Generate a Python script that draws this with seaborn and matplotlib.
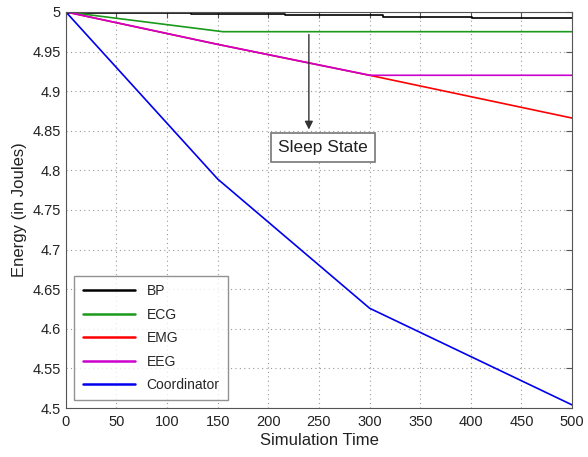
import matplotlib
matplotlib.use("Agg")
import matplotlib.pyplot as plt
import seaborn as sns
import pandas as pd

bp_t = [0, 124, 124, 216, 216, 313, 313, 401, 401, 500]
bp_e = [4.9985, 4.9985, 4.9975, 4.9975, 4.9960, 4.9960, 4.9940, 4.9940, 4.9922, 4.9922]
ecg_t = [0, 155, 500]
ecg_e = [5.0, 4.975, 4.975]
emg_t = [0, 150, 300, 500]
emg_e = [5.0, 4.959, 4.920, 4.866]
eeg_t = [0, 150, 300, 500]
eeg_e = [5.0, 4.959, 4.920, 4.920]
coord_t = [0, 150, 300, 500]
coord_e = [5.0, 4.789, 4.626, 4.504]

series = ["BP", "ECG", "EMG", "EEG", "Coordinator"]
colors = ["#000000", "#1a9a1a", "#ff0000", "#cc00cc", "#0000ee"]
xticks = list(range(0, 501, 50))
yticks = [4.5, 4.55, 4.6, 4.65, 4.7, 4.75, 4.8, 4.85, 4.9, 4.95, 5.0]
ytick_labels = ["4.5", "4.55", "4.6", "4.65", "4.7", "4.75", "4.8", "4.85", "4.9", "4.95", "5"]

frames = []
for name, t, e in zip(series, [bp_t, ecg_t, emg_t, eeg_t, coord_t],
                      [bp_e, ecg_e, emg_e, eeg_e, coord_e]):
    frames.append(pd.DataFrame({"t": t, "e": e, "s": name}))
df = pd.concat(frames, ignore_index=True)

sns.set_style("white")
plt.rcParams["font.family"] = ["Liberation Sans", "DejaVu Sans"]

fig = plt.figure(figsize=(5.88, 4.57), dpi=100)
ax = fig.add_axes([0.112, 0.107, 0.861, 0.867])
sns.lineplot(data=df, x="t", y="e", hue="s", hue_order=series,
             palette=dict(zip(series, colors)), sort=False, estimator=None,
             linewidth=1.2, ax=ax)

ax.set_xlim(0, 500)
ax.set_ylim(4.5, 5.0)
ax.set_xticks(xticks)
ax.set_yticks(yticks)
ax.set_yticklabels(ytick_labels)
ax.tick_params(direction="in", top=True, right=True, labelsize=10.5, length=4,
               color="#555555", labelcolor="#222222")
ax.tick_params(axis="x", pad=5)
ax.grid(True, linestyle=(0, (1, 3)), color="#999999", linewidth=0.8)
for sp in ax.spines.values():
    sp.set_color("#555555")
    sp.set_linewidth(0.8)
ax.set_xlabel("Simulation Time", fontsize=12, labelpad=3, color="#222222")
ax.set_ylabel("Energy (in Joules)", fontsize=12, labelpad=4, color="#222222")

ax.annotate("", xy=(240, 4.848), xytext=(240, 4.975),
            arrowprops=dict(arrowstyle="-|>", color="#333333", lw=1.0, mutation_scale=12))
ax.text(254, 4.829, "Sleep State", ha="center", va="center", fontsize=12.5, color="#222222",
        bbox=dict(boxstyle="square,pad=0.4", fc="white", ec="#777777", lw=1.2))

leg = ax.legend(loc="lower left", fontsize=10, frameon=True, fancybox=False,
                edgecolor="#777777", handlelength=3.8, borderpad=0.6, labelspacing=0.68,
                bbox_to_anchor=(0.003, 0.002))
leg.get_frame().set_linewidth(1.0)
for line in leg.get_lines():
    line.set_linewidth(1.8)

fig.savefig("out.png", dpi=100)
